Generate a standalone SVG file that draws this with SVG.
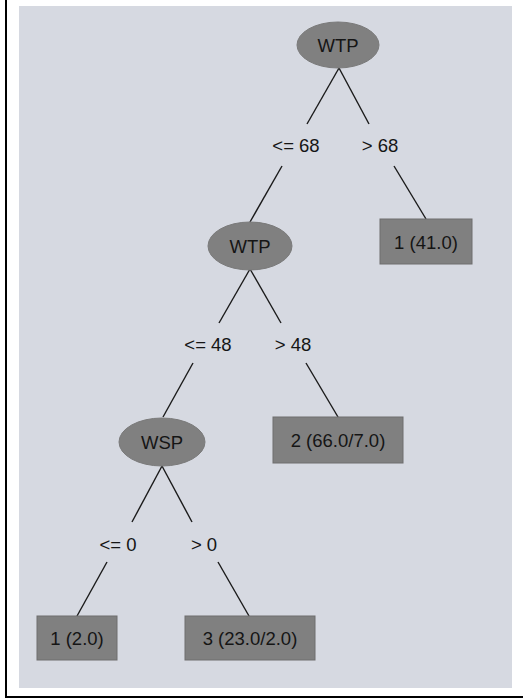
<svg xmlns="http://www.w3.org/2000/svg" width="523" height="699" viewBox="0 0 523 699">
  <style>
    .panel { fill: #d6d9e1; }
    .frame { stroke: #000; stroke-width: 2; fill: none; }
    .split { fill: #808080; stroke: #7a7a7a; stroke-width: 1; }
    .leaf { fill: #808080; stroke: #6e6e6e; stroke-width: 1; }
    .edge { stroke: #1a1a1a; stroke-width: 1.4; fill: none; }
    text { font-family: "Liberation Sans", Arial, sans-serif; font-size: 18.5px; fill: #151515; text-anchor: middle; }
  </style>
  <rect x="0" y="0" width="523" height="699" fill="#fff"/>
  <rect class="panel" x="19" y="6" width="493" height="682"/>
  <path class="frame" d="M6 0 V697 H523"/>

  <g id="edges">
    <line class="edge" x1="339" y1="68" x2="307" y2="124"/>
    <line class="edge" x1="339" y1="68" x2="369" y2="124"/>
    <line class="edge" x1="282" y1="166" x2="250" y2="222"/>
    <line class="edge" x1="394" y1="166" x2="426" y2="219"/>
    <line class="edge" x1="250" y1="269" x2="219" y2="323"/>
    <line class="edge" x1="250" y1="269" x2="281" y2="323"/>
    <line class="edge" x1="193" y1="363" x2="163" y2="417"/>
    <line class="edge" x1="306" y1="363" x2="338" y2="417"/>
    <line class="edge" x1="162" y1="466" x2="132" y2="522"/>
    <line class="edge" x1="162" y1="466" x2="192" y2="522"/>
    <line class="edge" x1="107" y1="562" x2="77" y2="616"/>
    <line class="edge" x1="218" y1="562" x2="249" y2="616"/>
  </g>

  <g id="edge-labels">
    <text x="296" y="152">&lt;= 68</text>
    <text x="380" y="152">&gt; 68</text>
    <text x="208" y="351">&lt;= 48</text>
    <text x="293" y="351">&gt; 48</text>
    <text x="118" y="551">&lt;= 0</text>
    <text x="204" y="551">&gt; 0</text>
  </g>

  <g id="n-wtp-root">
    <ellipse class="split" cx="338" cy="45" rx="41" ry="23"/>
    <text x="338" y="52">WTP</text>
  </g>
  <g id="n-wtp-2">
    <ellipse class="split" cx="250" cy="246" rx="42" ry="24"/>
    <text x="250" y="253">WTP</text>
  </g>
  <g id="n-wsp">
    <ellipse class="split" cx="162" cy="442" rx="43" ry="24"/>
    <text x="162" y="449">WSP</text>
  </g>
  <g id="leaf-41">
    <rect class="leaf" x="380" y="219" width="92" height="45"/>
    <text x="426" y="249">1 (41.0)</text>
  </g>
  <g id="leaf-66">
    <rect class="leaf" x="273" y="417" width="130" height="46"/>
    <text x="338" y="447">2 (66.0/7.0)</text>
  </g>
  <g id="leaf-2">
    <rect class="leaf" x="37" y="616" width="80" height="44"/>
    <text x="77" y="645">1 (2.0)</text>
  </g>
  <g id="leaf-23">
    <rect class="leaf" x="185" y="616" width="130" height="44"/>
    <text x="250" y="645">3 (23.0/2.0)</text>
  </g>
</svg>
